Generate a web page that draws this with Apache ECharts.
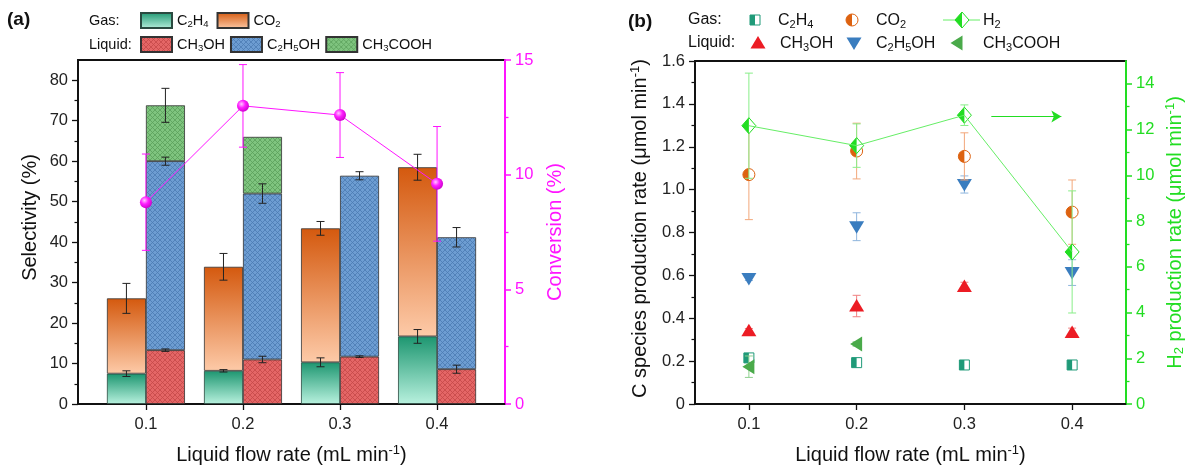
<!DOCTYPE html>
<html><head><meta charset="utf-8">
<script src="https://cdn.jsdelivr.net/npm/echarts@6/dist/echarts.min.js"></script>
<style>html,body{margin:0;padding:0;background:#fff}#c{width:1190px;height:470px}</style>
</head><body><div id="c"></div>
<script>
// ---------- data ----------
const xValues = [0.1, 0.2, 0.3, 0.4];
const xCategories = ['0.1', '0.2', '0.3', '0.4'];
const xTickValues = [0.1, 0.2, 0.3, 0.4];
const selTickValues = [0, 10, 20, 30, 40, 50, 60, 70, 80];
const convTickValues = [0, 5, 10, 15];
const rateTickValues = [0, 0.2, 0.4, 0.6, 0.8, 1.0, 1.2, 1.4, 1.6];
const h2TickValues = [0, 2, 4, 6, 8, 10, 12, 14];

// panel (a) selectivity (%) – segment values
const selC2H4 = [7.5, 8.2, 10.3, 16.7];
const selCO2 = [18.6, 25.7, 33.1, 41.8];
const selCH3OH = [13.3, 11.0, 11.7, 8.6];
const selC2H5OH = [46.7, 41.0, 44.7, 32.6];
const selCH3COOH = [13.8, 14.0, null, null];
const errC2H4 = [0.7, 0.3, 1.1, 1.7];
const errCO2 = [3.7, 3.3, 1.7, 3.2];
const errCH3OH = [0.3, 0.8, 0.2, 1.0];
const errC2H5OH = [1.0, 2.4, 1.0, 2.4];
const errCH3COOH = [4.2, null, null, null];
// conversion (%)
const conversion = [8.8, 13.0, 12.6, 9.6];
const conversionErr = [2.1, 1.8, 1.85, 2.5];

// panel (b) production rates (umol/min)
const rateC2H4 = [0.215, 0.193, 0.182, 0.182];
const rateC2H4Err = [0.02, 0.01, 0.01, 0.01];
const rateCO2 = [1.07, 1.18, 1.155, 0.895];
const rateCO2Err = [0.21, 0.13, 0.11, 0.15];
const rateCH3OH = [0.342, 0.457, 0.548, 0.334];
const rateCH3OHErr = [0.01, 0.05, 0.02, 0.02];
const rateC2H5OH = [0.586, 0.827, 1.024, 0.613];
const rateC2H5OHErr = [0.01, 0.065, 0.04, 0.06];
const rateCH3COOH = [0.174, 0.28, null, null];
const rateCH3COOHErr = [0.05, 0.01, null, null];
const rateH2 = [12.17, 11.3, 12.63, 6.65];
const rateH2Err = [2.3, 0.95, 0.45, 2.67];
const h2ArrowX = [0.325, 0.39];
const h2ArrowY = 12.57;

// ---------- styling helpers ----------
const FONT = '"Liberation Sans", Arial, Helvetica, sans-serif';
const BAR_W = 39;
const MAGENTA = '#ff14ff';
const H2GREEN = '#22dd22';

function hatch(base, line) {
  const c = document.createElement('canvas'); c.width = 5; c.height = 5;
  const g = c.getContext('2d');
  g.fillStyle = base; g.fillRect(0, 0, 5, 5);
  g.strokeStyle = line; g.lineWidth = 0.8;
  g.beginPath(); g.moveTo(0, 0); g.lineTo(5, 5); g.moveTo(5, 0); g.lineTo(0, 5); g.stroke();
  return { image: c, repeat: 'repeat' };
}
function vgrad(top, bottom) {
  return { type: 'linear', x: 0, y: 0, x2: 0, y2: 1, colorStops: [{ offset: 0, color: top }, { offset: 1, color: bottom }] };
}
const subRich = (fs, pad) => ({
  s: { fontSize: fs, padding: [pad, 0, 0, 0], fontFamily: FONT },
  p: { fontSize: fs, padding: [0, 0, pad, 0], fontFamily: FONT }
});
const chem = n => n.replace(/(\d)/g, '{s|$1}');
const zip = (xs, ys) => xs.map((x, i) => [x, ys[i]]).filter(d => d[1] != null);

// cumulative tops for error bars
const gasTop1 = selC2H4.slice();
const gasTop2 = selC2H4.map((v, i) => v + selCO2[i]);
const liqTop1 = selCH3OH.slice();
const liqTop2 = selCH3OH.map((v, i) => v + selC2H5OH[i]);
const liqTop3 = liqTop2.map((v, i) => selCH3COOH[i] == null ? null : v + selCH3COOH[i]);
const barErrData = [];
function pushErr(tops, errs, side) {
  xCategories.forEach((x, i) => { if (tops[i] != null && errs[i] != null) barErrData.push([i, tops[i], errs[i], side]); });
}
pushErr(gasTop1, errC2H4, -1); pushErr(gasTop2, errCO2, -1);
pushErr(liqTop1, errCH3OH, 1); pushErr(liqTop2, errC2H5OH, 1); pushErr(liqTop3, errCH3COOH, 1);

function errGroup(px, yTop, yBot, color, cap) {
  const st = { stroke: color, lineWidth: 1 };
  return [
    { type: 'line', shape: { x1: px, y1: yTop, x2: px, y2: yBot }, style: st },
    { type: 'line', shape: { x1: px - cap, y1: yTop, x2: px + cap, y2: yTop }, style: st },
    { type: 'line', shape: { x1: px - cap, y1: yBot, x2: px + cap, y2: yBot }, style: st }
  ];
}

function markerEls(kind, cx, cy, color) {
  switch (kind) {
    case 'halfSquare': { const s = 5; return [
      { type: 'rect', shape: { x: cx - s, y: cy - s, width: 2 * s, height: 2 * s }, style: { fill: '#fff', stroke: color, lineWidth: 1 } },
      { type: 'rect', shape: { x: cx - s, y: cy - s, width: s, height: 2 * s }, style: { fill: color } }]; }
    case 'halfCircle': { const r = 6; return [
      { type: 'circle', shape: { cx, cy, r }, style: { fill: '#fff', stroke: color, lineWidth: 1 } },
      { type: 'sector', shape: { cx, cy, r0: 0, r, startAngle: Math.PI / 2, endAngle: Math.PI * 1.5, clockwise: true }, style: { fill: color } }]; }
    case 'halfDiamond': { const w = 7, h = 8; return [
      { type: 'polygon', shape: { points: [[cx, cy - h], [cx + w, cy], [cx, cy + h], [cx - w, cy]] }, style: { fill: '#fff', stroke: color, lineWidth: 1 } },
      { type: 'polygon', shape: { points: [[cx, cy - h], [cx, cy + h], [cx - w, cy]] }, style: { fill: color } }]; }
    case 'triUp': return [{ type: 'polygon', shape: { points: [[cx, cy - 7], [cx + 7.5, cy + 5.5], [cx - 7.5, cy + 5.5]] }, style: { fill: color } }];
    case 'triDown': return [{ type: 'polygon', shape: { points: [[cx - 7.5, cy - 5.5], [cx + 7.5, cy - 5.5], [cx, cy + 7]] }, style: { fill: color } }];
    case 'triLeft': return [{ type: 'polygon', shape: { points: [[cx - 6.5, cy], [cx + 5.5, cy - 7.5], [cx + 5.5, cy + 7.5]] }, style: { fill: color } }];
  }
  return [];
}

function rateSeries(name, ys, errs, kind, color, errColor, yIdx) {
  const data = xValues.map((x, i) => [x, ys[i], errs[i] == null ? 0 : errs[i]]).filter(d => d[1] != null);
  return {
    type: 'custom', name, xAxisIndex: 1, yAxisIndex: yIdx, clip: false, silent: true,
    dimensions: ['x', 'y', 'e'], encode: { x: 0, y: 1 }, data,
    renderItem: (params, api) => {
      const x = api.value(0), y = api.value(1), e = api.value(2);
      const p = api.coord([x, y]);
      let children = [];
      if (e > 0) {
        const t = api.coord([x, y + e]), b = api.coord([x, y - e]);
        children = children.concat(errGroup(p[0], t[1], b[1], errColor, 4));
      }
      children = children.concat(markerEls(kind, p[0], p[1], color));
      return { type: 'group', children };
    }
  };
}

const blackAxis = (extra) => Object.assign({
  axisLine: { show: true, onZero: false, lineStyle: { color: '#111', width: 1.8 } },
  axisTick: { show: true, inside: false, length: 6, lineStyle: { color: '#111', width: 1.3 } },
  axisLabel: { color: '#222', fontSize: 16.5, fontFamily: FONT },
  splitLine: { show: false },
  nameTextStyle: { color: '#111', fontSize: 20, fontFamily: FONT, rich: subRich(13, 9) }
}, extra);

const pieces = {
  red: hatch('#e46666', '#c44848'),
  blue: hatch('#6d9dd2', '#4b7bb2'),
  green: hatch('#7fc47f', '#5ba05b')
};

// plot geometry of panel (a): visible value axis spans 0.03..0.47, categories sit at 0.1..0.4
const A_LEFT = 78, A_WIDTH = 427, A_MIN = 0.03, A_MAX = 0.47;
const A_PX = A_WIDTH / (A_MAX - A_MIN);
const catLeft = A_LEFT + (0.05 - A_MIN) * A_PX;
const catWidth = 0.4 * A_PX;

const option = {
  animation: false,
  backgroundColor: '#fff',
  textStyle: { fontFamily: FONT },
  grid: [
    { left: A_LEFT, top: 60, width: A_WIDTH, height: 344, show: true, borderColor: '#111', borderWidth: 1.8, backgroundColor: 'transparent' },
    { left: 695, top: 61, width: 431, height: 345, show: true, borderColor: '#111', borderWidth: 1.8, backgroundColor: 'transparent' },
    { left: catLeft, top: 60, width: catWidth, height: 344, show: false }
  ],
  xAxis: [
    blackAxis({ type: 'value', gridIndex: 0, min: A_MIN, max: A_MAX,
      name: 'Liquid flow rate (mL min{p|-1})', nameLocation: 'middle', nameGap: 40,
      axisTick: { show: true, length: 6, customValues: xTickValues, lineStyle: { color: '#111', width: 1.3 } },
      axisLabel: { color: '#222', fontSize: 16.5, fontFamily: FONT, margin: 12, customValues: xTickValues, formatter: v => v.toFixed(1) } }),
    blackAxis({ type: 'value', gridIndex: 1, min: 0.05, max: 0.45,
      name: 'Liquid flow rate (mL min{p|-1})', nameLocation: 'middle', nameGap: 40,
      axisTick: { show: true, length: 6, customValues: xTickValues, lineStyle: { color: '#111', width: 1.3 } },
      axisLabel: { color: '#222', fontSize: 16.5, fontFamily: FONT, margin: 12, customValues: xTickValues, formatter: v => v.toFixed(1) } }),
    { type: 'category', gridIndex: 2, data: xCategories, show: false, boundaryGap: true }
  ],
  yAxis: [
    blackAxis({ type: 'value', gridIndex: 0, min: 0, max: 85, interval: 10, position: 'left',
      name: 'Selectivity (%)', nameLocation: 'middle', nameGap: 38,
      nameTextStyle: { color: '#111', fontSize: 20, fontFamily: FONT, padding: [0, 0, 0, 29] },
      axisTick: { show: true, length: 6, customValues: selTickValues, lineStyle: { color: '#111', width: 1.3 } },
      minorTick: { show: true, splitNumber: 2, length: 3.5, lineStyle: { color: '#111', width: 1.2 } },
      axisLabel: { color: '#222', fontSize: 16.5, fontFamily: FONT, margin: 10, customValues: selTickValues } }),
    { type: 'value', gridIndex: 0, min: 0, max: 15, interval: 5, position: 'right',
      name: 'Conversion (%)', nameLocation: 'middle', nameGap: 40,
      nameTextStyle: { color: MAGENTA, fontSize: 20, fontFamily: FONT },
      axisLine: { show: true, onZero: false, lineStyle: { color: MAGENTA, width: 2 } },
      axisTick: { show: true, length: 6, customValues: convTickValues, lineStyle: { color: MAGENTA, width: 1.5 } },
      minorTick: { show: true, splitNumber: 2, length: 3.5, lineStyle: { color: MAGENTA, width: 1.3 } },
      axisLabel: { color: MAGENTA, fontSize: 16.5, fontFamily: FONT, margin: 10, customValues: convTickValues },
      splitLine: { show: false } },
    blackAxis({ type: 'value', gridIndex: 1, min: 0, max: 1.6, interval: 0.2, position: 'left',
      name: 'C species production rate (\u03bcmol min{p|-1})', nameLocation: 'middle', nameGap: 44,
      nameTextStyle: { color: '#111', fontSize: 20, fontFamily: FONT, padding: [0, 0, 0, 8], rich: subRich(13, 9) },
      minorTick: { show: true, splitNumber: 2, length: 3.5, lineStyle: { color: '#111', width: 1.2 } },
      axisLabel: { color: '#222', fontSize: 16.5, fontFamily: FONT, margin: 10, customValues: rateTickValues, formatter: v => v === 0 ? '0' : v.toFixed(1) },
      axisTick: { show: true, length: 6, customValues: rateTickValues, lineStyle: { color: '#111', width: 1.3 } } }),
    { type: 'value', gridIndex: 1, min: 0, max: 15, interval: 2, position: 'right',
      name: 'H{s|2} production rate (\u03bcmol min{p|-1})', nameLocation: 'middle', nameGap: 38,
      nameTextStyle: { color: H2GREEN, fontSize: 20, fontFamily: FONT, rich: subRich(13, 9) },
      axisLine: { show: true, onZero: false, lineStyle: { color: H2GREEN, width: 2 } },
      axisTick: { show: true, length: 6, customValues: h2TickValues, lineStyle: { color: H2GREEN, width: 1.5 } },
      minorTick: { show: true, splitNumber: 2, length: 3.5, lineStyle: { color: H2GREEN, width: 1.3 } },
      axisLabel: { color: H2GREEN, fontSize: 16.5, fontFamily: FONT, margin: 10, customValues: h2TickValues },
      splitLine: { show: false } },
    { type: 'value', gridIndex: 2, min: 0, max: 85, show: false }
  ],
  legend: [
    { left: 135, top: 7, itemWidth: 31, itemHeight: 15, itemGap: 8, icon: 'rect', selectedMode: false,
      data: ['C2H4', 'CO2'], formatter: chem,
      textStyle: { fontSize: 14.5, color: '#111', fontFamily: FONT, rich: subRich(9.5, 7) } },
    { left: 135, top: 31, itemWidth: 31, itemHeight: 15, itemGap: 5, icon: 'rect', selectedMode: false,
      data: ['CH3OH', 'C2H5OH', 'CH3COOH'], formatter: chem,
      textStyle: { fontSize: 14.5, color: '#111', fontFamily: FONT, rich: subRich(9.5, 7) } }
  ],
  graphic: [],
  series: [
    { type: 'bar', name: 'C2H4', xAxisIndex: 2, yAxisIndex: 4, stack: 'gas', barWidth: BAR_W, barGap: '0%',
      data: selC2H4, itemStyle: { color: vgrad('#1d9670', '#b8f1de'), borderColor: '#2a4a40', borderWidth: 0.8 } },
    { type: 'bar', name: 'CO2', xAxisIndex: 2, yAxisIndex: 4, stack: 'gas', barWidth: BAR_W, barGap: '0%',
      data: selCO2, itemStyle: { color: vgrad('#d4590e', '#fdcaa8'), borderColor: '#333', borderWidth: 0.8 } },
    { type: 'bar', name: 'CH3OH', xAxisIndex: 2, yAxisIndex: 4, stack: 'liq', barWidth: BAR_W, barGap: '0%',
      data: selCH3OH, itemStyle: { color: pieces.red, borderColor: '#333', borderWidth: 0.8 } },
    { type: 'bar', name: 'C2H5OH', xAxisIndex: 2, yAxisIndex: 4, stack: 'liq', barWidth: BAR_W, barGap: '0%',
      data: selC2H5OH, itemStyle: { color: pieces.blue, borderColor: '#333', borderWidth: 0.8 } },
    { type: 'bar', name: 'CH3COOH', xAxisIndex: 2, yAxisIndex: 4, stack: 'liq', barWidth: BAR_W, barGap: '0%',
      data: selCH3COOH.map(v => v == null ? '-' : v), itemStyle: { color: pieces.green, borderColor: '#333', borderWidth: 0.8 } },
    { type: 'custom', name: 'barErrors', xAxisIndex: 2, yAxisIndex: 4, silent: true, clip: false, z: 6,
      dimensions: ['x', 'y', 'e', 'side'], encode: { x: 0, y: 1 }, data: barErrData,
      renderItem: (params, api) => {
        const x = api.value(0), c = api.value(1), e = api.value(2), side = api.value(3);
        const pc = api.coord([x, c]), pt = api.coord([x, c + e]), pb = api.coord([x, c - e]);
        return { type: 'group', children: errGroup(pc[0] + side * BAR_W / 2, pt[1], pb[1], '#222', 4) };
      } },
    { type: 'line', name: 'Conversion', xAxisIndex: 0, yAxisIndex: 1, data: zip(xValues, conversion),
      lineStyle: { color: MAGENTA, width: 1 }, symbol: 'circle', symbolSize: 12, z: 8,
      itemStyle: { color: { type: 'radial', x: 0.38, y: 0.35, r: 0.7, colorStops: [{ offset: 0, color: '#ffc8ff' }, { offset: 0.45, color: '#ff1eff' }, { offset: 1, color: '#c800c8' }] } } },
    { type: 'custom', name: 'convErrors', xAxisIndex: 0, yAxisIndex: 1, silent: true, clip: false, z: 7,
      dimensions: ['x', 'y', 'e'], encode: { x: 0, y: 1 },
      data: xValues.map((x, i) => [x, conversion[i], conversionErr[i]]),
      renderItem: (params, api) => {
        const x = api.value(0), c = api.value(1), e = api.value(2);
        const pt = api.coord([x, c + e]), pb = api.coord([x, c - e]);
        return { type: 'group', children: errGroup(pt[0], pt[1], pb[1], MAGENTA, 4) };
      } },
    // panel (b)
    { type: 'line', name: 'H2 line', xAxisIndex: 1, yAxisIndex: 3, data: zip(xValues, rateH2), symbol: 'none',
      lineStyle: { color: '#66ee66', width: 1 }, silent: true,
      markLine: { silent: true, symbol: ['none', 'arrow'], symbolSize: [9, 10], label: { show: false },
        lineStyle: { color: H2GREEN, type: 'solid', width: 1 },
        data: [[{ coord: [h2ArrowX[0], h2ArrowY] }, { coord: [h2ArrowX[1], h2ArrowY] }]] } },
    rateSeries('C2H4 rate', rateC2H4, rateC2H4Err, 'halfSquare', '#1f9a78', '#7fc9b3', 2),
    rateSeries('CH3COOH rate', rateCH3COOH, rateCH3COOHErr, 'triLeft', '#4aaa4a', '#8fd08f', 2),
    rateSeries('CH3OH rate', rateCH3OH, rateCH3OHErr, 'triUp', '#ec1c24', '#f08080', 2),
    rateSeries('C2H5OH rate', rateC2H5OH, rateC2H5OHErr, 'triDown', '#3a7dbf', '#8fb5dd', 2),
    rateSeries('CO2 rate', rateCO2, rateCO2Err, 'halfCircle', '#dd6210', '#f2a77a', 2),
    rateSeries('H2 rate', rateH2, rateH2Err, 'halfDiamond', H2GREEN, '#88ee88', 3)
  ]
};

// legend-like annotations and panel labels
const txt = (x, y, text, size, color, weight, rich) => ({
  type: 'text', x, y, silent: true,
  style: { text, fontSize: size, fontFamily: FONT, fontWeight: weight || 'normal', fill: color || '#111', verticalAlign: 'middle', align: 'left', rich: rich }
});
const mk = (kind, x, y, color) => ({ type: 'group', silent: true, children: markerEls(kind, x, y, color) });
option.graphic = [
  txt(7, 20, '(a)', 19, '#111', 'bold'),
  txt(628, 22, '(b)', 19, '#111', 'bold'),
  txt(89, 21, 'Gas:', 14.5),
  txt(89, 45, 'Liquid:', 14.5),
  txt(688, 20, 'Gas:', 16),
  txt(688, 43, 'Liquid:', 16),
  mk('halfSquare', 755, 20, '#1f9a78'),
  txt(778, 21, chem('C2H4'), 16, '#111', 'normal', subRich(11, 8)),
  mk('halfCircle', 852, 20, '#dd6210'),
  txt(876, 21, chem('CO2'), 16, '#111', 'normal', subRich(11, 8)),
  { type: 'line', silent: true, shape: { x1: 943, y1: 20, x2: 980, y2: 20 }, style: { stroke: '#66ee66', lineWidth: 1 } },
  mk('halfDiamond', 962, 20, H2GREEN),
  txt(983, 21, chem('H2'), 16, '#111', 'normal', subRich(11, 8)),
  mk('triUp', 758, 43, '#ec1c24'),
  txt(780, 44, chem('CH3OH'), 16, '#111', 'normal', subRich(11, 8)),
  mk('triDown', 854, 43, '#3a7dbf'),
  txt(876, 44, chem('C2H5OH'), 16, '#111', 'normal', subRich(11, 8)),
  mk('triLeft', 957, 43, '#4aaa4a'),
  txt(983, 44, chem('CH3COOH'), 16, '#111', 'normal', subRich(11, 8))
];

const chart = echarts.init(document.getElementById('c'), null, { renderer: 'canvas', width: 1190, height: 470 });
chart.setOption(option);
</script>
</body></html>
